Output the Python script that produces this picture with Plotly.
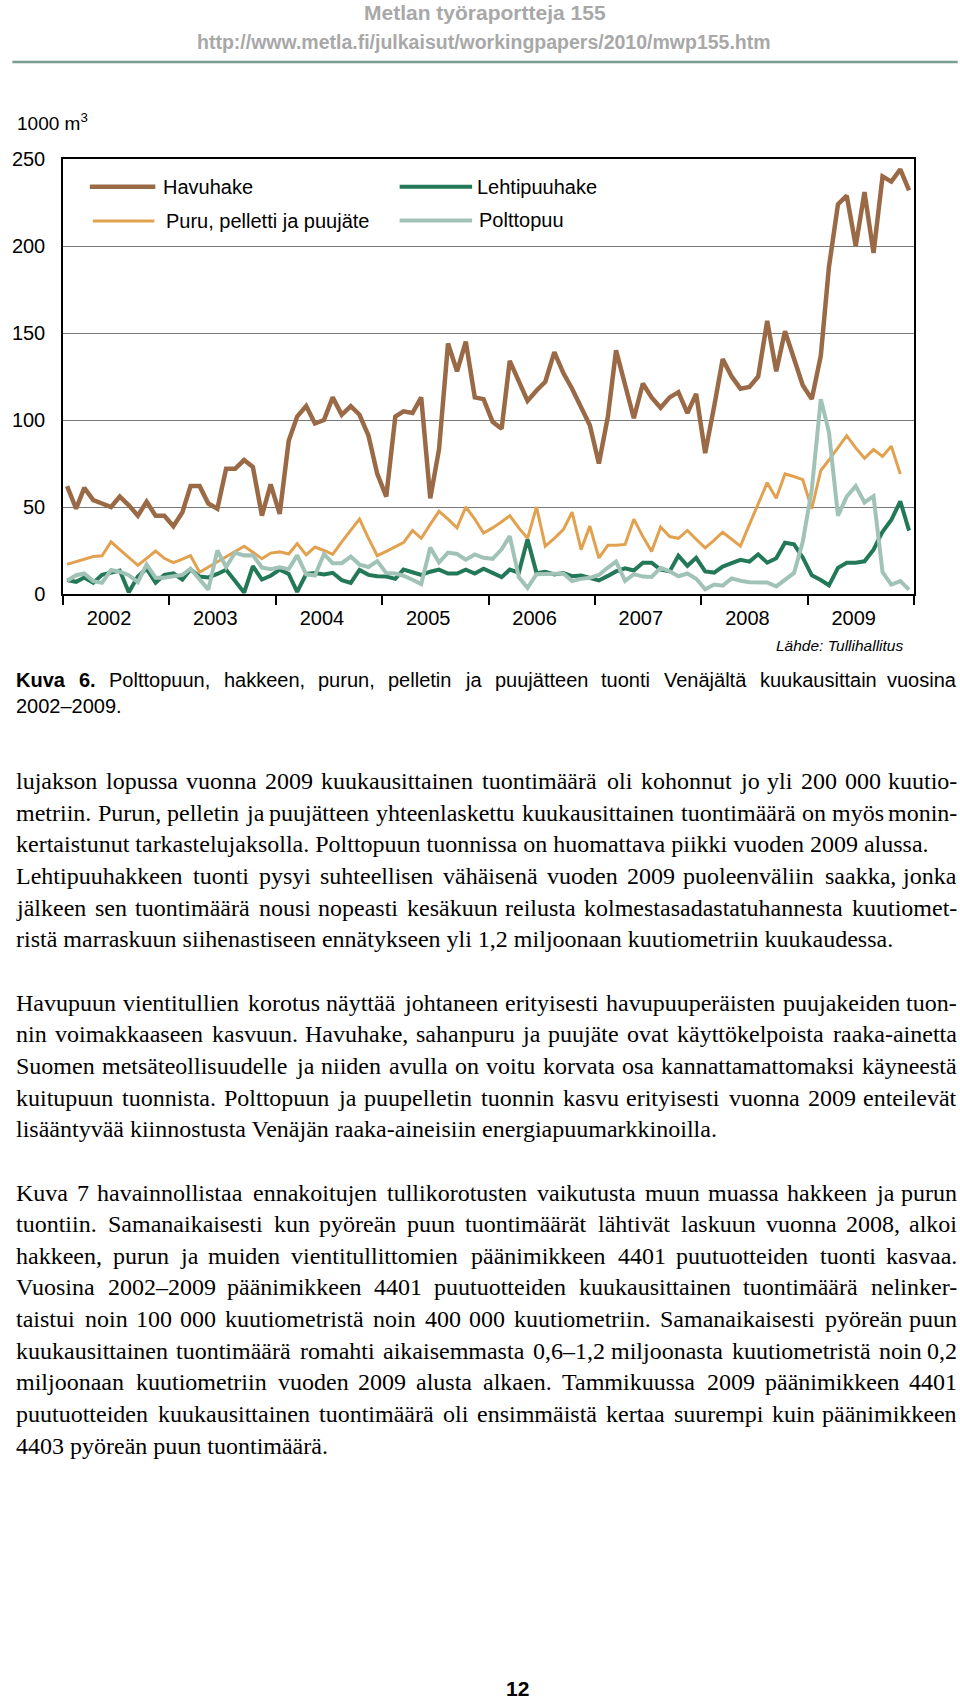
import plotly.graph_objects as go

# ---------------- data ----------------
years = [2002, 2003, 2004, 2005, 2006, 2007, 2008, 2009]
month_dates = [f"{y}-{m:02d}-15" for y in years for m in range(1, 13)]

havuhake = [
    62, 49, 61, 54, 52, 50, 56, 51, 45, 53, 45, 45,
    39, 47, 62, 62, 52, 49, 72, 72, 77, 73, 45, 63,
    46, 88, 102, 108, 98, 100, 113, 103, 108, 103, 91, 69,
    56, 102, 105, 104, 113, 55, 83, 144, 128, 145, 113, 112,
    99, 95, 134, 123, 111, 117, 122, 139, 127, 118, 108, 97,
    75, 102, 140, 119, 101, 121, 113, 107, 113, 116, 104, 115,
    81, 108, 135, 125, 118, 119, 125, 157, 128, 151, 136, 120,
    112, 137, 188, 224, 229, 200, 231, 196, 240, 237, 244, 232]

lehtipuuhake = [
    8, 7, 9.5, 6.4, 11, 12.5, 13.5, 1, 10, 14.5, 6.5, 11,
    11.8, 8.3, 14.2, 10, 9.5, 11.5, 14, 7.5, 0.8, 16, 8.3, 10.5,
    14, 11.5, 1.2, 11.5, 12, 11.2, 12.2, 8, 6.4, 13.8, 11, 10.2,
    10, 8.7, 14, 12.5, 11, 12.8, 14, 11.8, 11.8, 14, 11.8, 14.5,
    12, 9.7, 14, 12.3, 31.5, 12, 12.8, 11.2, 12, 10.2, 10.6, 9,
    7.8, 10.4, 13, 14.8, 13.5, 18, 18, 14, 13, 22, 16.2, 20.8,
    13, 12.3, 15.8, 17.7, 19.6, 18.6, 22.8, 18, 20.5, 29.5, 28.5, 21,
    10.7, 8, 5, 15, 18, 18, 18.8, 25.5, 35.8, 42.5, 53.3, 36.4]

puru = [
    17, 18.5, 20, 21.5, 22, 30, 25.5, 21, 16.5, 20.5, 24.7, 20.5,
    18, 20, 22, 12.5, 15.5, 18.5, 21.5, 24.5, 27.4, 24, 20.3, 23.5,
    24.2, 23, 29, 22.5, 27, 25, 22.8, 30, 36.5, 43, 32, 22,
    24.5, 27, 29.5, 36.5, 32, 40, 47.5, 43, 38, 50, 43, 35,
    38, 41.5, 45, 38, 32, 50, 27.5, 32, 37, 47, 25.5, 39,
    20.7, 28, 28, 28.5, 43, 33, 24.5, 38.5, 33, 32, 36.5, 31.5,
    26.5, 31, 35.5, 31.5, 27.5, 40, 52, 64, 55, 69, 67.5, 65.7,
    49, 71, 77, 84, 91, 84, 78, 83, 79, 85, 69, None]

polttopuu = [
    7.6, 10.8, 11.8, 7.4, 6.4, 13.8, 12.8, 10.8, 6.8, 17, 9.3, 9.3,
    10.2, 11, 14.5, 8.3, 2.5, 25, 15.5, 23.7, 22.2, 22.3, 15.2, 14.3,
    15.3, 14.3, 22.2, 11.3, 10.6, 23, 17.7, 17.7, 21.5, 16.9, 15.5, 18.9,
    12, 11.8, 10.5, 8.2, 5.7, 26.7, 18.1, 23.8, 23, 19.7, 22.7, 20.8,
    20.2, 25.7, 33.3, 9.7, 3.5, 11.4, 11.5, 11.2, 11.8, 7.4, 8.7, 9.3,
    10.9, 15.2, 18.6, 7.5, 11.4, 10, 9.8, 15, 13.1, 10.2, 11.8, 8.8,
    2.7, 5.4, 4.8, 9, 7.6, 6.8, 6.7, 6.6, 4.4, 8.3, 12.1, 30,
    60, 112, 93, 45, 56, 62, 52.6, 56.2, 12.6, 5.4, 7.4, 2.5]

y_ticks = [0, 50, 100, 150, 200, 250]
year_labels = [str(y) for y in years]

series_names = ["Havuhake", "Lehtipuuhake", "Puru, pelletti ja puujäte", "Polttopuu"]

# ---------------- styles ----------------
C_BROWN = "#9a6a47"
C_DGREEN = "#237857"
C_ORANGE = "#e2a14f"
C_LGREEN = "#a1c3b7"

W, H = 960, 1699
L, R, T, B = 57, 914, 159, 594
PW, PH = R - L, B - T


def px(x):
    return (x - L) / PW


def py(y):
    return (B - y) / PH


fig = go.Figure()
fig.add_trace(go.Scatter(x=month_dates, y=havuhake, name=series_names[0], mode="lines",
                         line=dict(color=C_BROWN, width=4.5)))
fig.add_trace(go.Scatter(x=month_dates, y=lehtipuuhake, name=series_names[1], mode="lines",
                         line=dict(color=C_DGREEN, width=4)))
fig.add_trace(go.Scatter(x=month_dates, y=puru, name=series_names[2], mode="lines",
                         line=dict(color=C_ORANGE, width=3)))
fig.add_trace(go.Scatter(x=month_dates, y=polttopuu, name=series_names[3], mode="lines",
                         line=dict(color=C_LGREEN, width=4)))

SANS = "Liberation Sans, Arial, Helvetica, sans-serif"
SERIF = "Liberation Serif, Times New Roman, serif"

fig.update_layout(
    width=W, height=H,
    margin=dict(l=L, r=W - R, t=T, b=H - B, pad=0),
    plot_bgcolor="white", paper_bgcolor="white",
    showlegend=False,
    font=dict(family=SANS, size=20, color="black"),
)
fig.update_xaxes(
    type="date", range=["2002-01-01", "2010-01-01"],
    tickvals=[f"{y}-06-08" for y in years], ticktext=year_labels,
    ticks="", showgrid=False, zeroline=False,
    showline=True, linecolor="black", linewidth=1.5, mirror=True,
    minor=dict(tickvals=[f"{y}-01-01" for y in range(2002, 2011)], ticks="outside",
               ticklen=9, tickwidth=1.5, tickcolor="black", showgrid=False),
    ticklabelstandoff=5,
    tickfont=dict(family=SANS, size=20, color="black"),
)
fig.update_yaxes(
    range=[0, 250], tickvals=y_ticks, ticks="",
    showgrid=True, gridcolor="#7a7a7a", gridwidth=1, zeroline=False,
    showline=True, linecolor="black", linewidth=1.5, mirror=True,
    ticklabelstandoff=12,
    tickfont=dict(family=SANS, size=20, color="black"),
)

ann = []
shapes = []


def text(x, y, s, size, family=SANS, color="black", xanchor="left", yanchor="middle"):
    ann.append(dict(x=px(x), y=py(y), xref="paper", yref="paper", text=s, showarrow=False,
                    xanchor=xanchor, yanchor=yanchor, borderpad=0,
                    font=dict(family=family, size=size, color=color)))


# header
text(482, 13, "<b>Metlan työraportteja 155</b>", 21, color="#a8a8a8", xanchor="center")
text(481, 42, "<b>http://www.metla.fi/julkaisut/workingpapers/2010/mwp155.htm</b>", 19.5,
     color="#a8a8a8", xanchor="center")
shapes.append(dict(type="line", xref="paper", yref="paper", x0=px(6), x1=px(958), y0=py(62), y1=py(62),
                   line=dict(color="#7b9c93", width=2.5)))

# unit label
text(10, 122, "1000 m<sup>3</sup>", 19)

# legend (drawn)
legend_items = [
    (84, 150, 186.7, 157, C_BROWN, 4.5, series_names[0]),
    (396, 469, 186.7, 473, C_DGREEN, 4, series_names[1]),
    (87, 149, 221, 160, C_ORANGE, 3, series_names[2]),
    (396, 469, 220.5, 475, C_LGREEN, 4, series_names[3]),
]
for x0, x1, yy, tx, col, lw, name in legend_items:
    shapes.append(dict(type="line", xref="paper", yref="paper", x0=px(x0), x1=px(x1),
                       y0=py(yy), y1=py(yy), line=dict(color=col, width=lw)))
    text(tx, yy, name, 20)

# source
text(904, 645, "<i>Lähde: Tullihallitus</i>", 15.5, xanchor="right")

# ---------- justified text helpers ----------
ARIAL = {' ': 278, ',': 278, '-': 333, '.': 278, '/': 278, ':': 278, '–': 556,
         'A': 667, 'B': 667, 'C': 722, 'D': 722, 'E': 667, 'F': 611, 'G': 778, 'H': 722, 'I': 278,
         'J': 500, 'K': 667, 'L': 556, 'M': 833, 'N': 722, 'O': 778, 'P': 667, 'R': 722, 'S': 667,
         'T': 611, 'U': 722, 'V': 667, 'W': 944,
         'a': 556, 'b': 556, 'c': 500, 'd': 556, 'e': 556, 'f': 278, 'g': 556, 'h': 556, 'i': 222,
         'j': 222, 'k': 500, 'l': 222, 'm': 833, 'n': 556, 'o': 556, 'p': 556, 'q': 556, 'r': 333,
         's': 500, 't': 278, 'u': 556, 'v': 500, 'w': 722, 'x': 500, 'y': 500, 'z': 500,
         'ä': 556, 'ö': 556}
ARIAL_B = {' ': 278, '.': 278, 'K': 722, 'u': 611, 'v': 556, 'a': 556}
TIMES = {' ': 250, ',': 250, '-': 333, '.': 250, ':': 278, '–': 500,
         'A': 722, 'B': 667, 'C': 667, 'D': 722, 'E': 611, 'F': 556, 'G': 722, 'H': 722, 'I': 333,
         'J': 389, 'K': 722, 'L': 611, 'M': 889, 'N': 722, 'O': 722, 'P': 556, 'R': 667, 'S': 556,
         'T': 611, 'U': 722, 'V': 722, 'W': 944,
         'a': 444, 'b': 500, 'c': 444, 'd': 500, 'e': 444, 'f': 333, 'g': 500, 'h': 500, 'i': 278,
         'j': 278, 'k': 500, 'l': 278, 'm': 778, 'n': 500, 'o': 500, 'p': 500, 'q': 500, 'r': 333,
         's': 389, 't': 278, 'u': 500, 'v': 500, 'w': 722, 'x': 500, 'y': 500, 'z': 444,
         'ä': 444, 'ö': 500}


def tw(s, table, size, snap):
    dflt = 500 if table is TIMES else 556
    if snap:
        # serif advances render snapped to whole pixels
        return sum(int(table.get(c, dflt) * size / 1000.0 + 0.5) for c in s)
    return sum(table.get(c, dflt) for c in s) * size / 1000.0


def line_words(s, y, left, right, size, family, table, bold_words=0, justify=True, snap=True):
    words = s.split(" ")
    if not justify:
        t = " ".join((f"<b>{w}</b>" if i < bold_words else w) for i, w in enumerate(words))
        text(left, y, t, size, family)
        return
    widths = [tw(w, ARIAL_B if i < bold_words else table, size, snap) for i, w in enumerate(words)]
    n = len(words)
    gap = (right - left - sum(widths)) / (n - 1)
    x = left
    for i, w in enumerate(words):
        t = f"<b>{w}</b>" if i < bold_words else w
        if i == n - 1:
            text(right, y, t, size, family, xanchor="right")
        else:
            text(x, y, t, size, family)
        x += widths[i] + gap


# caption
line_words("Kuva 6. Polttopuun, hakkeen, purun, pelletin ja puujätteen tuonti Venäjältä kuukausittain vuosina",
           680, 9, 958, 20, SANS, ARIAL, bold_words=2, snap=False)
line_words("2002–2009.", 706, 9, 116, 20, SANS, ARIAL, justify=False)

# body text: (line index, text, justified)
body = [
    (0, "lujakson lopussa vuonna 2009 kuukausittainen tuontimäärä oli kohonnut jo yli 200 000 kuutio-", True),
    (1, "metriin. Purun, pelletin ja puujätteen yhteenlaskettu kuukausittainen tuontimäärä on myös monin-", True),
    (2, "kertaistunut tarkastelujaksolla. Polttopuun tuonnissa on huomattava piikki vuoden 2009 alussa.", False),
    (3, "Lehtipuuhakkeen tuonti pysyi suhteellisen vähäisenä vuoden 2009 puoleenväliin saakka, jonka", True),
    (4, "jälkeen sen tuontimäärä nousi nopeasti kesäkuun reilusta kolmestasadastatuhannesta kuutiomet-", True),
    (5, "ristä marraskuun siihenastiseen ennätykseen yli 1,2 miljoonaan kuutiometriin kuukaudessa.", False),
    (7, "Havupuun vientitullien korotus näyttää johtaneen erityisesti havupuuperäisten puujakeiden tuon-", True),
    (8, "nin voimakkaaseen kasvuun. Havuhake, sahanpuru ja puujäte ovat käyttökelpoista raaka-ainetta", True),
    (9, "Suomen metsäteollisuudelle ja niiden avulla on voitu korvata osa kannattamattomaksi käyneestä", True),
    (10, "kuitupuun tuonnista. Polttopuun ja puupelletin tuonnin kasvu erityisesti vuonna 2009 enteilevät", True),
    (11, "lisääntyvää kiinnostusta Venäjän raaka-aineisiin energiapuumarkkinoilla.", False),
    (13, "Kuva 7 havainnollistaa ennakoitujen tullikorotusten vaikutusta muun muassa hakkeen ja purun", True),
    (14, "tuontiin. Samanaikaisesti kun pyöreän puun tuontimäärät lähtivät laskuun vuonna 2008, alkoi", True),
    (15, "hakkeen, purun ja muiden vientitullittomien päänimikkeen 4401 puutuotteiden tuonti kasvaa.", True),
    (16, "Vuosina 2002–2009 päänimikkeen 4401 puutuotteiden kuukausittainen tuontimäärä nelinker-", True),
    (17, "taistui noin 100 000 kuutiometristä noin 400 000 kuutiometriin. Samanaikaisesti pyöreän puun", True),
    (18, "kuukausittainen tuontimäärä romahti aikaisemmasta 0,6–1,2 miljoonasta kuutiometristä noin 0,2", True),
    (19, "miljoonaan kuutiometriin vuoden 2009 alusta alkaen. Tammikuussa 2009 päänimikkeen 4401", True),
    (20, "puutuotteiden kuukausittainen tuontimäärä oli ensimmäistä kertaa suurempi kuin päänimikkeen", True),
    (21, "4403 pyöreän puun tuontimäärä.", False),
]
for k, s, just in body:
    line_words(s, 781.2 + 31.64 * k, 9, 958, 24, SERIF, TIMES, justify=just)

# page number
text(515, 1688, "<b>12</b>", 21, xanchor="center")

fig.update_layout(annotations=ann, shapes=shapes)
fig.write_html("out.html")
